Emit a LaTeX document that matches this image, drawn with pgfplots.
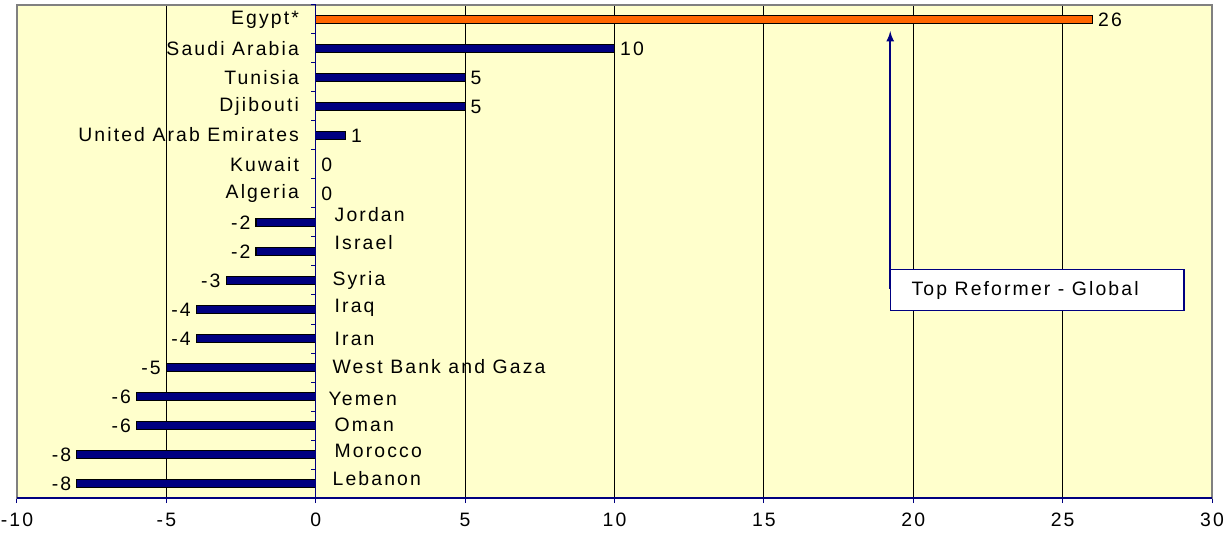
\documentclass[border=0pt]{standalone}
\usepackage{pgfplots}
\pgfplotsset{compat=1.18}
\usepackage{fontspec}
\setmainfont{Liberation Sans}[LetterSpace=11]
\definecolor{bgy}{HTML}{FFFFCC}
\definecolor{navyb}{HTML}{000080}
\definecolor{egyor}{HTML}{FF6600}
\newcommand{\lf}{\fontsize{9.7}{11}\selectfont}
\begin{document}
\begin{tikzpicture}
\begin{axis}[
  scale only axis, width=597.5pt, height=246.5pt,
  xbar, bar width=3.8pt, bar shift=0pt,
  xmin=-10, xmax=30, ymin=0.5, ymax=17.5, y dir=reverse,
  xtick={-10,-5,...,30}, ytick=\empty,
  xmajorgrids, grid style={black, line width=0.45pt},
  axis background/.style={fill=bgy},
  axis line style={gray, line width=0.9pt},
  xtick pos=lower, tick align=outside, major tick length=2.5pt,
  tick style={navyb, line width=0.5pt},
  x tick label style={font=\lf, yshift=-1.5pt},
  /pgf/number format/assume math mode=true,
  nodes near coords, nodes near coords align={horizontal},
  every node near coord/.append style={font=\lf, text=black, inner sep=2.5pt},
  clip=false,
]
\addplot[fill=egyor, draw=black, line width=0.6pt] coordinates {(26,1)};
\addplot[fill=navyb, draw=black, line width=0.6pt] coordinates {
(10,2) (5,3) (5,4) (1,5) (0,6) (0,7) (-2,8) (-2,9) (-3,10) (-4,11) (-4,12) (-5,13) (-6,14) (-6,15) (-8,16) (-8,17)};
\draw[navyb, line width=0.5pt] (axis cs:0,0.5) -- (axis cs:0,17.5);
\pgfplotsinvokeforeach{0.5,1.5,...,16.5}{\draw[navyb, line width=0.5pt] (axis cs:0,#1) -- ([xshift=-2.5pt]axis cs:0,#1);}
\draw[navyb, line width=0.6pt] (rel axis cs:0,0) -- (rel axis cs:1,0);
% country names
\begin{scope}[every node/.style={font=\lf, inner sep=0pt}]
\node[anchor=east] at (axis cs:-0.55,1) {Egypt*};
\node[anchor=east] at (axis cs:-0.55,2) {Saudi Arabia};
\node[anchor=east] at (axis cs:-0.55,3) {Tunisia};
\node[anchor=east] at (axis cs:-0.55,4) {Djibouti};
\node[anchor=east] at (axis cs:-0.55,4.97) {United Arab Emirates};
\node[anchor=east] at (axis cs:-0.55,6) {Kuwait};
\node[anchor=east] at (axis cs:-0.55,7) {Algeria};
\node[anchor=west] at (axis cs:0.62,7.72) {Jordan};
\node[anchor=west] at (axis cs:0.62,8.69) {Israel};
\node[anchor=west] at (axis cs:0.55,10.0) {Syria};
\node[anchor=west] at (axis cs:0.62,10.93) {Iraq};
\node[anchor=west] at (axis cs:0.62,12.0) {Iran};
\node[anchor=west] at (axis cs:0.55,12.97) {West Bank and Gaza};
\node[anchor=west] at (axis cs:0.42,14.1) {Yemen};
\node[anchor=west] at (axis cs:0.62,14.97) {Oman};
\node[anchor=west] at (axis cs:0.62,15.86) {Morocco};
\node[anchor=west] at (axis cs:0.55,16.83) {Lebanon};
\end{scope}
% annotation
\draw[navyb, line width=0.8pt, -latex] (axis cs:19.23,10.3) -- (axis cs:19.23,1.4);
\draw[navyb, line width=0.6pt, fill=white] (axis cs:19.23,9.62) rectangle (axis cs:29.06,11.03);
\node[font=\lf, anchor=west, inner sep=0pt] at (axis cs:19.93,10.33) {Top Reformer - Global};
\end{axis}
\pgfresetboundingbox
\path (current axis.south west) ++(-8.5pt,-18.5pt) rectangle ++(614pt,267.5pt);
\end{tikzpicture}
\end{document}
